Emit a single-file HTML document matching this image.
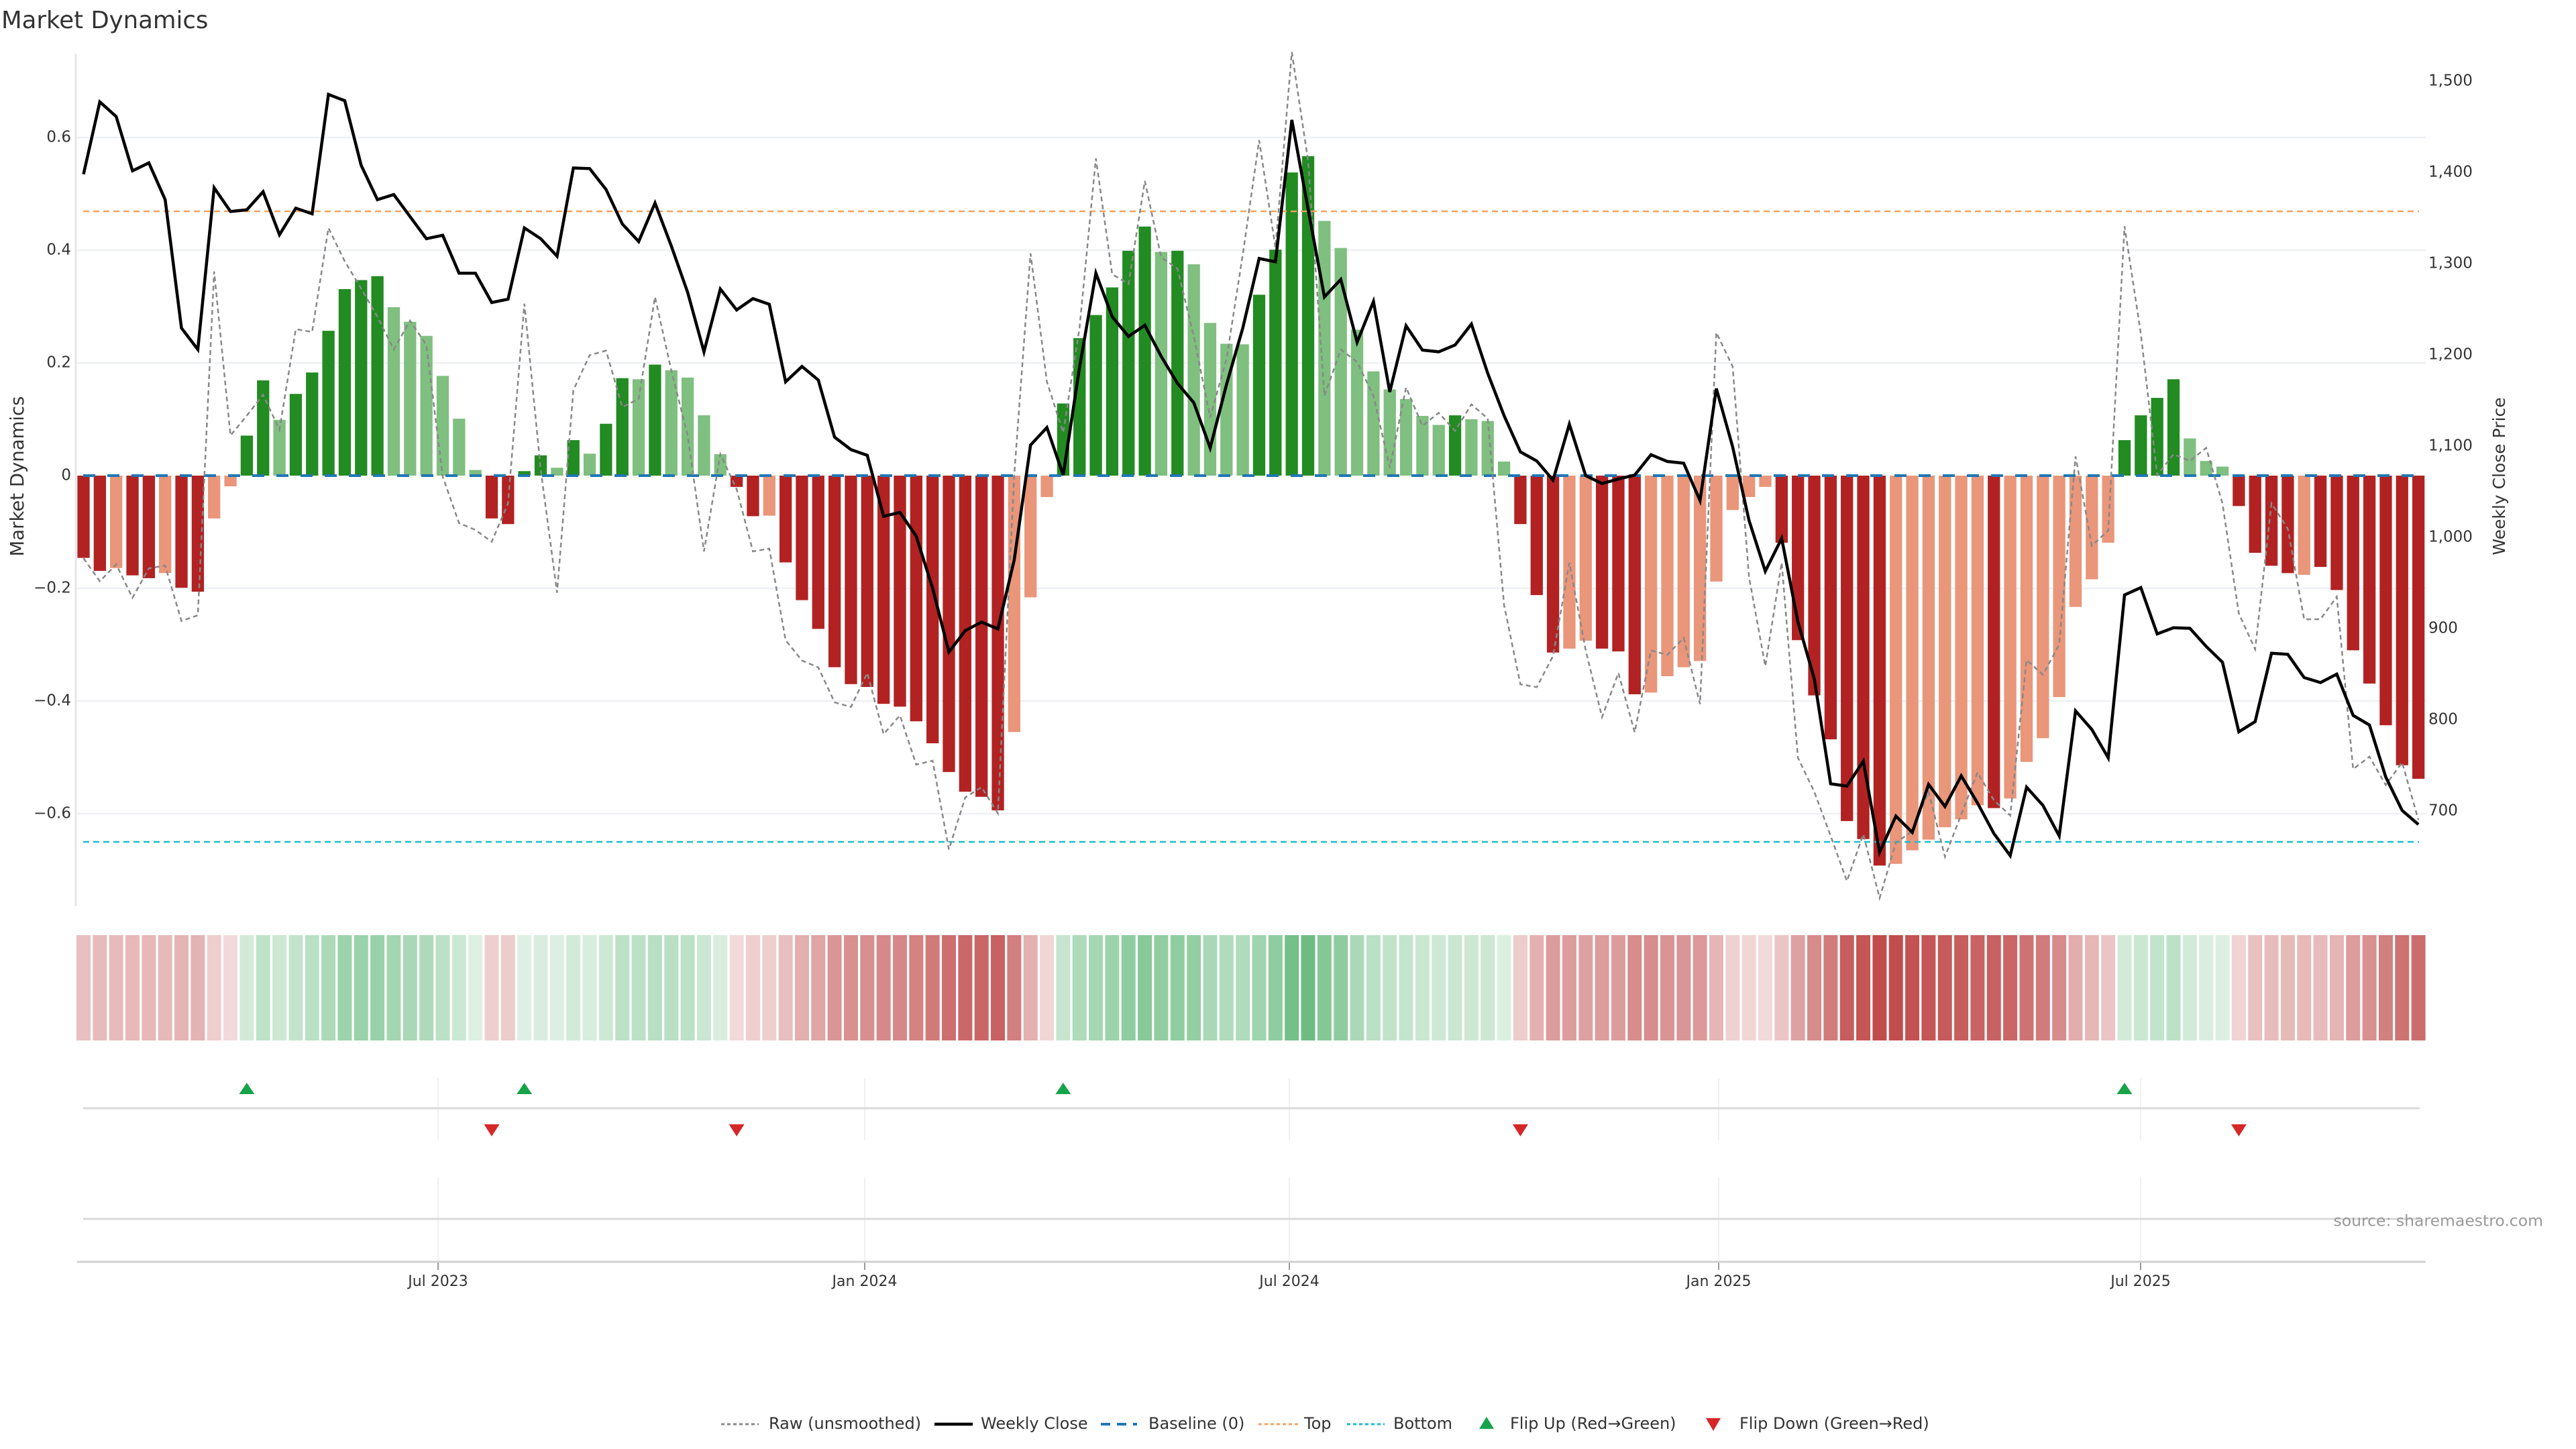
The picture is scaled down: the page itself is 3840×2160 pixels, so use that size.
<!DOCTYPE html>
<html><head><meta charset="utf-8"><style>
html,body{margin:0;padding:0;background:#fff;}
svg{display:block;font-family:"DejaVu Sans","Liberation Sans",sans-serif;}
</style></head><body>
<svg id="s" xmlns="http://www.w3.org/2000/svg" width="3840" height="2160" viewBox="0 0 3840 2160">
<rect width="3840" height="2160" fill="#fff"/>
<g id="grid"></g>
<g id="bars"></g>
<g id="lines"></g>
<g id="heat"></g>
<g id="marks"></g>
<text x="2" y="42" font-size="35.5" fill="#333">Market Dynamics</text>
<text transform="translate(27,710) rotate(-90)" text-anchor="middle" dominant-baseline="middle" font-size="27.5" fill="#333">Market Dynamics</text>
<text transform="translate(3727,710) rotate(-90)" text-anchor="middle" dominant-baseline="middle" font-size="25" fill="#333">Weekly Close Price</text>
<g font-size="23" fill="#333" text-anchor="end" dominant-baseline="middle">
<text x="106" y="205">0.6</text>
<text x="106" y="373">0.4</text>
<text x="106" y="541">0.2</text>
<text x="106" y="709">0</text>
<text x="106" y="877">−0.2</text>
<text x="106" y="1045">−0.4</text>
<text x="106" y="1213">−0.6</text>
</g>
<g font-size="23" fill="#333" dominant-baseline="middle">
<text x="3620" y="121">1,500</text>
<text x="3620" y="257">1,400</text>
<text x="3620" y="393">1,300</text>
<text x="3620" y="529">1,200</text>
<text x="3620" y="665">1,100</text>
<text x="3620" y="801">1,000</text>
<text x="3620" y="937">900</text>
<text x="3620" y="1073">800</text>
<text x="3620" y="1209">700</text>
</g>
<g font-size="22" fill="#333" text-anchor="middle" dominant-baseline="middle">
<text x="653" y="1911">Jul 2023</text>
<text x="1289" y="1911">Jan 2024</text>
<text x="1922" y="1911">Jul 2024</text>
<text x="2562" y="1911">Jan 2025</text>
<text x="3191" y="1911">Jul 2025</text>
</g>
<text x="3791" y="1821" font-size="23.5" fill="#999" text-anchor="end" dominant-baseline="middle">source: sharemaestro.com</text>
<g font-size="24" fill="#333" dominant-baseline="middle">
<line x1="1075" y1="2123" x2="1131" y2="2123" stroke="#888" stroke-width="3" stroke-dasharray="5,4"/>
<text x="1146" y="2123">Raw (unsmoothed)</text>
<line x1="1393" y1="2123" x2="1450" y2="2123" stroke="#000" stroke-width="4.5"/>
<text x="1462" y="2123">Weekly Close</text>
<line x1="1641" y1="2123" x2="1695" y2="2123" stroke="#1f77b4" stroke-width="4" stroke-dasharray="14,10"/>
<text x="1712" y="2123">Baseline (0)</text>
<line x1="1876" y1="2123" x2="1935" y2="2123" stroke="#f4a460" stroke-width="3" stroke-dasharray="5,4"/>
<text x="1944" y="2123">Top</text>
<line x1="2008" y1="2123" x2="2064" y2="2123" stroke="#17becf" stroke-width="3" stroke-dasharray="5,4"/>
<text x="2077" y="2123">Bottom</text>
<polygon points="2216,2112 2227,2130 2205,2130" fill="#16a34a"/>
<text x="2251" y="2123">Flip Up (Red→Green)</text>
<polygon points="2543,2114 2565,2114 2554,2133" fill="#d62728"/>
<text x="2593" y="2123">Flip Down (Green→Red)</text>
</g>
</svg>
<script>
var NS="http://www.w3.org/2000/svg";
function el(p,t,a){var e=document.createElementNS(NS,t);for(var k in a)e.setAttribute(k,a[k]);p.appendChild(e);return e;}
var vals=[-0.146,-0.169,-0.164,-0.177,-0.182,-0.173,-0.199,-0.206,-0.076,-0.019,
0.071,0.169,0.099,0.145,0.183,0.257,0.331,0.347,0.354,0.299,
0.273,0.248,0.177,0.101,0.010,-0.076,-0.086,0.008,0.036,0.014,
0.063,0.039,0.092,0.173,0.171,0.197,0.187,0.174,0.107,0.038,
-0.020,-0.072,-0.071,-0.154,-0.221,-0.272,-0.340,-0.370,-0.375,-0.405,
-0.410,-0.436,-0.475,-0.526,-0.561,-0.570,-0.594,-0.455,-0.216,-0.038,
0.128,0.244,0.285,0.334,0.399,0.442,0.397,0.399,0.375,0.271,
0.234,0.233,0.321,0.401,0.538,0.567,0.452,0.404,0.259,0.185,
0.153,0.136,0.106,0.090,0.107,0.100,0.097,0.025,-0.086,-0.212,
-0.314,-0.307,-0.293,-0.307,-0.312,-0.388,-0.385,-0.356,-0.340,-0.329,
-0.188,-0.061,-0.038,-0.020,-0.119,-0.292,-0.390,-0.468,-0.613,-0.645,
-0.692,-0.689,-0.665,-0.646,-0.624,-0.610,-0.585,-0.590,-0.573,-0.508,
-0.466,-0.393,-0.233,-0.184,-0.119,0.063,0.107,0.138,0.171,0.066,
0.026,0.016,-0.054,-0.137,-0.160,-0.173,-0.176,-0.162,-0.203,-0.310,
-0.369,-0.443,-0.514,-0.538];
var cols="DDSDDSDDSS"+"GGLGGGGGGL"+"LLLLLDDGGL"+"GLGGLGLLLL"+"DDSDDDDDDD"+"DDDDDDDSSS"+"GGGGGGLGLL"+"LLGGGGLLLL"+"LLLLGLLLDD"+"DSSDDDSSSS"+"SSSSDDDDDD"+"DSSSSSSDSS"+"SSSSSGGGGL"+"LLDDDDSDDD"+"DDDD";
var price=[238,110,136,232,218,283,510,548,262,304,301,269,345,298,308,97,108,222,283,274,313,352,346,413,413,465,459,333,352,383,227,228,265,326,357,289,365,447,552,
441,478,458,468,605,578,602,703,725,735,843,836,878,970,1083,1045,1030,1042,920,717,686,770,580,413,490,525,505,560,608,642,722,610,510,387,393,142,300,
455,424,535,463,623,506,549,552,540,503,590,665,729,745,779,680,771,785,777,770,734,746,749,815,617,720,850,940,882,1030,1130,1316,1320,1276,1437,1373,1402,
1317,1356,1302,1350,1404,1443,1322,1354,1408,1187,1220,1270,982,969,1051,1040,1041,1073,1101,1224,1206,1085,1087,1128,1137,1122,1195,1212,1304,1363,1388];
var raw=[917,958,928,987,935,930,1028,1018,410,700,665,628,690,512,517,333,392,440,490,548,497,540,
773,855,867,888,820,467,760,978,620,558,550,650,635,455,585,700,905,
733,795,905,900,1062,1098,1110,1172,1180,1120,1228,1195,1282,1275,1432,1340,1322,1368,770,378,605,695,510,210,415,432,250,385,405,525,668,565,380,178,368,22,215,
630,548,570,630,757,615,683,660,692,645,670,1000,1140,1145,1090,925,1080,1198,1120,1225,1080,1088,1058,1175,518,578,950,1108,925,1270,1330,1408,1488,1405,1518,1420,1400,
1330,1445,1370,1296,1345,1372,1097,1123,1070,737,895,868,330,520,770,733,745,722,820,1015,1078,820,865,1025,1025,985,1290,1268,1318,1278,1380];
var X0=124.5,P=24.34,Z=709,S=840;
function X(i){return X0+i*P;}
function zy(v){return Z+(v-771)*0.843;}
var g=document.getElementById("grid");
[0.6,0.4,0.2,-0.2,-0.4,-0.6].forEach(function(v){el(g,"line",{x1:113,x2:3616,y1:Z-v*S,y2:Z-v*S,stroke:"#eef0f3","stroke-width":2.5});});
el(g,"line",{x1:113,x2:113,y1:80,y2:1351,stroke:"#e6e6ee","stroke-width":3});
var dx=[653,1289,1922,2562,3191];
dx.forEach(function(x){
 el(g,"line",{x1:x,x2:x,y1:1607,y2:1700,stroke:"#f0f0f0","stroke-width":2});
 el(g,"line",{x1:x,x2:x,y1:1755,y2:1881,stroke:"#f0f0f0","stroke-width":2});
 el(g,"line",{x1:x,x2:x,y1:1881,y2:1893,stroke:"#999","stroke-width":2});
});
el(g,"line",{x1:124,x2:3607,y1:1652,y2:1652,stroke:"#d9d9d9","stroke-width":3});
el(g,"line",{x1:124,x2:3607,y1:1817,y2:1817,stroke:"#d9d9d9","stroke-width":3});
el(g,"line",{x1:115,x2:3616,y1:1881,y2:1881,stroke:"#d0d0d0","stroke-width":3});
var b=document.getElementById("bars");
var C={D:"#b22222",S:"#e9967a",G:"#228b22",L:"#7fbf7f"};
for(var i=0;i<vals.length;i++){var v=vals[i],h=Math.abs(v)*S;
 el(b,"rect",{x:X(i)-9.15,y:v>=0?Z-h:Z,width:18.3,height:Math.max(h,0.5),fill:C[cols[i]]});}
var l=document.getElementById("lines");
el(l,"line",{x1:124,x2:3606,y1:315,y2:315,stroke:"#f4a460","stroke-width":2.5,"stroke-dasharray":"9,6"});
el(l,"line",{x1:124,x2:3606,y1:1255,y2:1255,stroke:"#17becf","stroke-width":2.5,"stroke-dasharray":"9,6"});
el(l,"line",{x1:124,x2:3606,y1:Z,y2:Z,stroke:"#1f77b4","stroke-width":4,"stroke-dasharray":"18,18"});
function pts(a){return a.map(function(y,i){return X(i).toFixed(1)+","+zy(y).toFixed(1);}).join(" ");}
el(l,"polyline",{points:pts(raw),fill:"none",stroke:"#888","stroke-width":2.5,"stroke-dasharray":"7,5"});
el(l,"polyline",{points:pts(price),fill:"none",stroke:"#000","stroke-width":4.5,"stroke-linejoin":"miter"});
var hm=document.getElementById("heat");
for(var i=0;i<vals.length;i++){var v=vals[i],a=Math.min(0.88,0.15+0.95*Math.abs(v));
 el(hm,"rect",{x:X(i)-10.5,y:1394,width:21,height:157,fill:v>=0?"#2ca04c":"#b22222","fill-opacity":a.toFixed(3)});}
var m=document.getElementById("marks");
[10,27,60,125].forEach(function(i){var x=X(i);el(m,"polygon",{points:(x)+",1614 "+(x+11.5)+",1631 "+(x-11.5)+",1631",fill:"#16a34a"});});
[25,40,88,132].forEach(function(i){var x=X(i);el(m,"polygon",{points:(x-11.5)+",1676 "+(x+11.5)+",1676 "+x+",1694",fill:"#d62728"});});
</script>
</body></html>
